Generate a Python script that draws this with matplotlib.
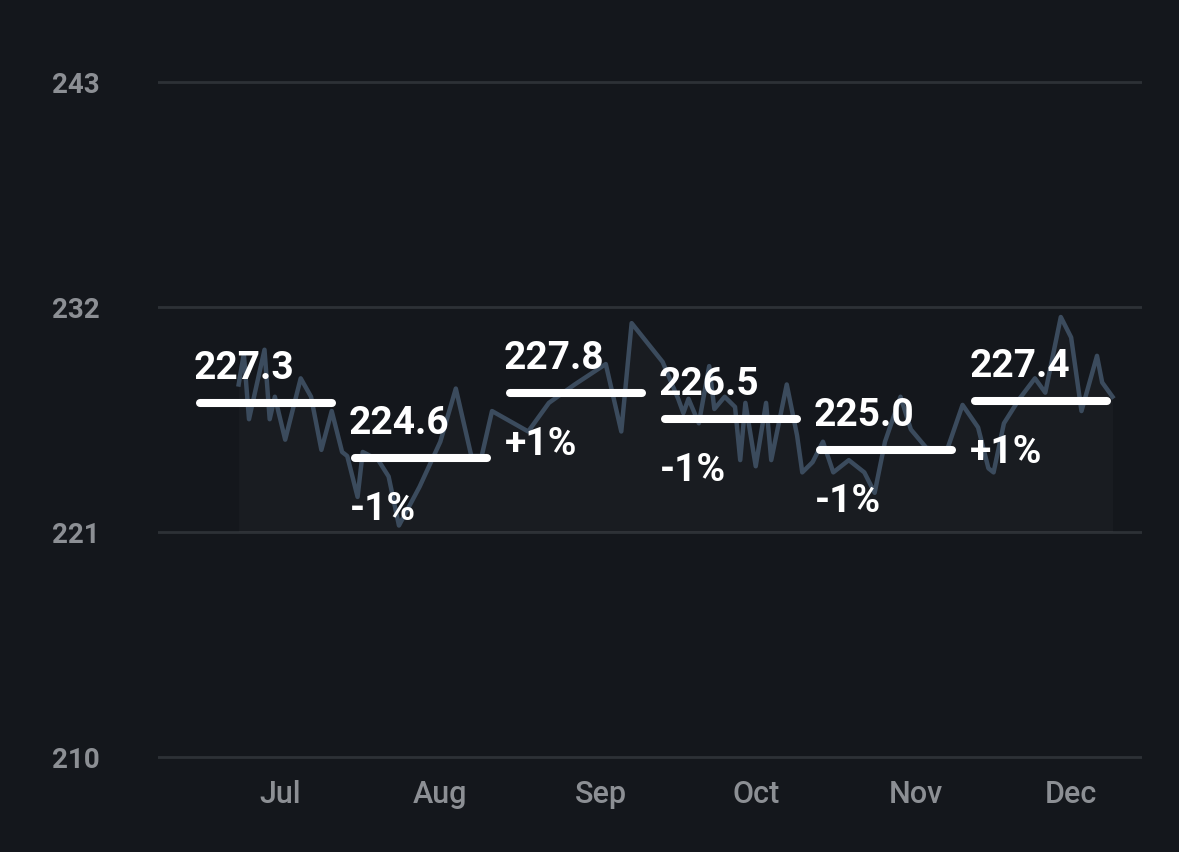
"""Monthly averages over a daily price line, dark theme."""

import matplotlib

matplotlib.use("Agg")
import matplotlib.pyplot as plt

plt.rcParams.update(
    {
        "font.family": ["Roboto", "DejaVu Sans"],
        "font.size": 20,
    }
)

BG = "#14171c"
GRID = "#2d3136"
LINE = "#3b4b5d"
TICK = "#8c8f94"

# day = days since 1 June
DAYS = [22, 23, 24, 27, 28, 29, 31, 34, 36, 38, 40, 42, 43, 45, 46, 49, 51, 53,
        57, 61, 64, 67, 69, 71, 78, 82, 87, 93, 96, 98, 104, 107, 108, 109, 111,
        113, 114, 116, 118, 119, 120, 122, 124, 125, 128, 130, 131, 133, 135,
        137, 140, 142, 143, 145, 147, 150, 152, 155, 159, 162, 165, 167, 168,
        170, 173, 176, 178, 181, 183, 185, 188, 189, 191]
PRICES = [228.2, 229.7, 226.5, 229.9, 226.5, 227.6, 225.5, 228.5, 227.6, 225.0,
          226.9, 224.9, 224.7, 222.7, 224.9, 224.5, 223.7, 221.3, 223.2, 225.4,
          228.0, 224.7, 224.7, 226.9, 225.9, 227.3, 228.2, 229.2, 225.9, 231.2,
          229.3, 227.5, 226.8, 227.5, 226.3, 229.1, 227.0, 227.6, 227.1, 224.5,
          227.3, 224.2, 227.3, 224.5, 228.2, 225.7, 223.9, 224.4, 225.4, 223.9,
          224.5, 224.1, 223.9, 222.9, 225.4, 227.6, 226.0, 225.1, 225.0, 227.2,
          226.1, 224.1, 223.9, 226.3, 227.5, 228.5, 227.8, 231.5, 230.5, 226.9,
          229.6, 228.3, 227.6]

MONTH_AVG = [227.3, 224.6, 227.8, 226.5, 225.0, 227.4]

MONTH_LABELS = ["Jul", "Aug", "Sep", "Oct", "Nov", "Dec"]
MONTH_DAYS = [30, 61, 92, 122, 153, 183]
Y_TICKS = [210, 221, 232, 243]

fig = plt.figure(figsize=(11.79, 8.53), dpi=100, facecolor=BG)
ax = fig.add_axes([0.134, 0.0999, 0.8346, 0.8269])
ax.set_facecolor(BG)

ax.plot(DAYS, PRICES, color=LINE, lw=3.2, zorder=2)
ax.fill_between(DAYS, PRICES, 221, color="white", alpha=0.022, lw=0, zorder=1)

for i, avg in enumerate(MONTH_AVG):
    start = 14.5 + 30 * i
    ax.plot([start, start + 25.5], [avg, avg], color="white", lw=5.8,
            solid_capstyle="round", zorder=3)
    ax.annotate(f"{avg:.1f}", (start, avg), xytext=(-4.5, 18),
                textcoords="offset points", ha="left", va="baseline",
                color="white", fontsize=28, fontweight="bold", zorder=4)
    if i > 0:
        pct = round((avg / MONTH_AVG[i - 1] - 1) * 100)
        ax.annotate(f"{pct:+d}%", (start, avg), xytext=(-4, -44),
                    textcoords="offset points", ha="left", va="baseline",
                    color="white", fontsize=28, fontweight="bold", zorder=4)

ax.set_xlim(6.4, 196.7)
ax.set_ylim(209.5, 244)
ax.set_yticks(Y_TICKS)
ax.set_xticks(MONTH_DAYS, MONTH_LABELS)
ax.grid(axis="y", color=GRID, lw=2)
ax.set_axisbelow(True)
for spine in ax.spines.values():
    spine.set_visible(False)

ax.tick_params(axis="y", length=0, pad=42, labelcolor=TICK, labelsize=20)
ax.tick_params(axis="x", length=0, pad=9, labelcolor=TICK, labelsize=22)
for lab in ax.get_yticklabels():
    lab.set_fontweight("bold")
for lab in ax.get_xticklabels():
    lab.set_fontweight(500)

fig.savefig("out.png", dpi=100, facecolor=BG)
